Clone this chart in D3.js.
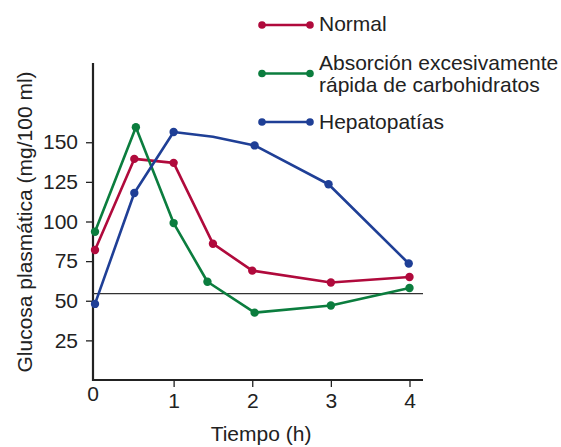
<!DOCTYPE html>
<html><head><meta charset="utf-8">
<script src="https://cdn.jsdelivr.net/npm/d3@7/dist/d3.min.js"></script>
<style>
body{margin:0;background:#fff;}
svg{display:block;font-family:"Liberation Sans",Arial,Helvetica,sans-serif;}
</style></head><body>
<svg id="c" width="561" height="447"></svg>
<script>
// ---- data ----
const seriesNames = ["Normal", "Absorción excesivamente|rápida de carbohidratos", "Hepatopatías"];
const normalTimes = [0, 0.5, 1, 1.5, 2, 3, 4];
const normalValues = [82, 139.5, 137, 86, 69, 61.5, 65];
const rapidTimes = [0, 0.52, 1, 1.43, 2.03, 3, 4];
const rapidValues = [93.5, 159.5, 99, 62, 42.5, 47, 58];
const hepaTimes = [0, 0.5, 1, 1.5, 2.03, 2.97, 3.99];
const hepaValues = [48, 118, 156.5, 153.5, 148, 123.5, 73.5];
const hepaMarked = [true, true, true, false, true, true, true];
const referenceLevel = 54.5;
const yTicks = [25, 50, 75, 100, 125, 150];
const xTicks = [1, 2, 3, 4];
const xLabel = "Tiempo (h)";
const yLabel = "Glucosa plasmática (mg/100 ml)";
const colors = ["#b00a3c", "#0b7d3e", "#1f3f96"];

const svg = d3.select("#c");
const x = d3.scaleLinear().domain([0, 4]).range([95, 409.5]);
const y = d3.scaleLinear().domain([0, 200]).range([380, 63]);
const axisX = 93;

// axes lines
svg.append("line").attr("x1", axisX).attr("x2", axisX).attr("y1", 63).attr("y2", 381)
  .attr("stroke", "#222").attr("stroke-width", 2.2);
svg.append("line").attr("x1", axisX - 1).attr("x2", 423).attr("y1", 380).attr("y2", 380)
  .attr("stroke", "#222").attr("stroke-width", 2.2);

// y axis ticks
const ya = svg.append("g").attr("transform", `translate(${axisX},0)`)
  .call(d3.axisLeft(y).tickValues(yTicks).tickSize(7).tickPadding(8).tickFormat(d3.format("d")));
ya.select(".domain").remove();
ya.selectAll("line").attr("stroke", "#222").attr("stroke-width", 1.3);
ya.selectAll("text").attr("font-size", 21).attr("fill", "#222").attr("font-family", "Liberation Sans, Arial, sans-serif");

// x axis ticks
const xa = svg.append("g").attr("transform", `translate(0,380)`)
  .call(d3.axisBottom(x).tickValues(xTicks).tickSize(7).tickPadding(6).tickFormat(d3.format("d")));
xa.select(".domain").remove();
xa.selectAll("line").attr("stroke", "#222").attr("stroke-width", 1.3);
xa.selectAll("text").attr("font-size", 21).attr("fill", "#222").attr("font-family", "Liberation Sans, Arial, sans-serif");
svg.append("text").attr("x", x(0) - 2).attr("y", 401).attr("text-anchor", "middle")
  .attr("font-size", 21).attr("fill", "#222").text("0");

// axis titles
svg.append("text").attr("x", 261).attr("y", 441).attr("text-anchor", "middle")
  .attr("font-size", 21).attr("fill", "#222").text(xLabel);
svg.append("text").attr("transform", "translate(32,222) rotate(-90)").attr("text-anchor", "middle")
  .attr("font-size", 21).attr("fill", "#222").text(yLabel);

// reference line
svg.append("line").attr("x1", axisX).attr("x2", 423).attr("y1", y(referenceLevel)).attr("y2", y(referenceLevel))
  .attr("stroke", "#333").attr("stroke-width", 1.1);

// series
const series = [
  {t: normalTimes, v: normalValues, m: normalValues.map(() => true)},
  {t: rapidTimes, v: rapidValues, m: rapidValues.map(() => true)},
  {t: hepaTimes, v: hepaValues, m: hepaMarked}
];
const line = d3.line().x(d => x(d[0])).y(d => y(d[1]));
series.forEach((s, i) => {
  const pts = s.t.map((t, j) => [t, s.v[j], s.m[j]]);
  svg.append("path").datum(pts).attr("d", line).attr("fill", "none")
    .attr("stroke", colors[i]).attr("stroke-width", 2.6).attr("stroke-linejoin", "round");
  svg.selectAll(null).data(pts.filter(p => p[2])).enter().append("circle")
    .attr("cx", d => x(d[0])).attr("cy", d => y(d[1])).attr("r", 4.2).attr("fill", colors[i]);
});

// legend
const legY = [25, 73.5, 122];
const legTextY = [[31], [70, 92], [129]];
seriesNames.forEach((name, i) => {
  const g = svg.append("g");
  g.append("line").attr("x1", 262).attr("x2", 310).attr("y1", legY[i]).attr("y2", legY[i])
    .attr("stroke", colors[i]).attr("stroke-width", 2.6);
  [262, 310].forEach(cx => g.append("circle").attr("cx", cx).attr("cy", legY[i]).attr("r", 3.8).attr("fill", colors[i]));
  name.split("|").forEach((ln, k) => {
    g.append("text").attr("x", 319).attr("y", legTextY[i][k]).attr("font-size", 21).attr("fill", "#222").text(ln);
  });
});
</script>
</body></html>
